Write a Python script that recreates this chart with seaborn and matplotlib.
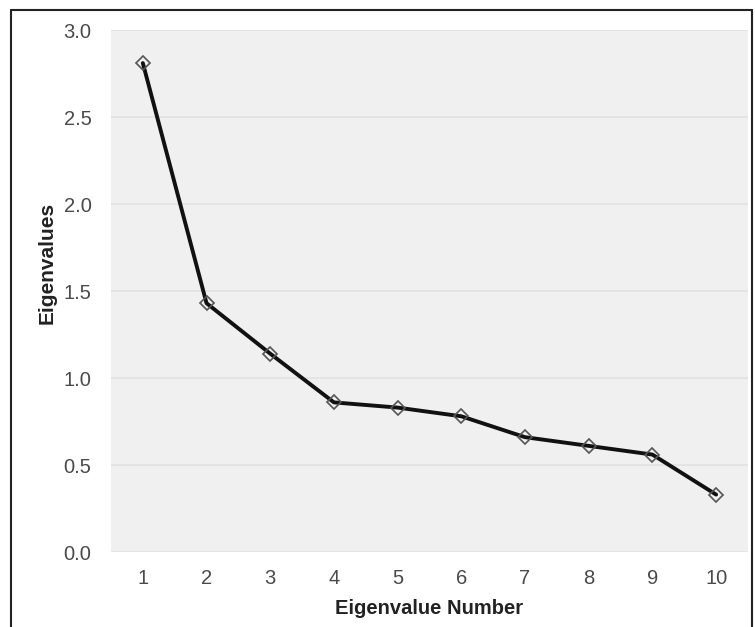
import matplotlib
matplotlib.use("Agg")
import matplotlib.pyplot as plt
import seaborn as sns
import pandas as pd
from matplotlib.lines import Line2D

eigen_number = [1, 2, 3, 4, 5, 6, 7, 8, 9, 10]
eigenvalues = [2.81, 1.43, 1.14, 0.86, 0.83, 0.78, 0.66, 0.61, 0.56, 0.33]
y_ticks = [0.0, 0.5, 1.0, 1.5, 2.0, 2.5, 3.0]

sns.set_theme(style="white")
plt.rcParams['font.family'] = ['Liberation Sans', 'DejaVu Sans']

df = pd.DataFrame({"Eigenvalue Number": eigen_number, "Eigenvalues": eigenvalues})

fig = plt.figure(figsize=(7.55, 6.27), dpi=100)
ax = fig.add_axes([0.147, 0.1196, 0.8437, 0.8325])
ax.set_facecolor("#f0f0f0")

sns.lineplot(data=df, x="Eigenvalue Number", y="Eigenvalues", ax=ax,
             color="#111111", linewidth=2.8, marker="D", markersize=7,
             markerfacecolor="none", markeredgecolor="#555555",
             markeredgewidth=1.2, zorder=3)

ax.set_xlim(0.5, 10.5)
ax.set_ylim(0, 3.0)
ax.set_xticks(eigen_number)
ax.set_yticks(y_ticks)
ax.set_yticklabels([f"{v:.1f}" for v in y_ticks])
ax.yaxis.grid(True, color="#e2e2e2", linewidth=1.2)
ax.xaxis.grid(False)
ax.set_axisbelow(True)
for s in ax.spines.values():
    s.set_visible(False)
ax.tick_params(axis="both", length=0, labelsize=14.5, labelcolor="#4a4a4a")
ax.tick_params(axis="x", pad=12.5)
ax.tick_params(axis="y", pad=14)
ax.set_xlabel("Eigenvalue Number", fontsize=14.5, fontweight="bold", color="#222222", labelpad=7.5)
ax.set_ylabel("Eigenvalues", fontsize=15, fontweight="bold", color="#222222")
ax.yaxis.set_label_coords(-0.086, 0.554)

# figure border (left, top, right)
W, H = 755, 627
x0, x1 = 11 / W, 752 / W
yt = 1 - 10 / H
for xs, ys in [([x0, x0], [yt, 0]), ([x0, x1], [yt, yt]), ([x1, x1], [yt, 0])]:
    fig.add_artist(Line2D(xs, ys, transform=fig.transFigure, color="#222222", linewidth=1.5))

fig.savefig("out.png", dpi=100)
